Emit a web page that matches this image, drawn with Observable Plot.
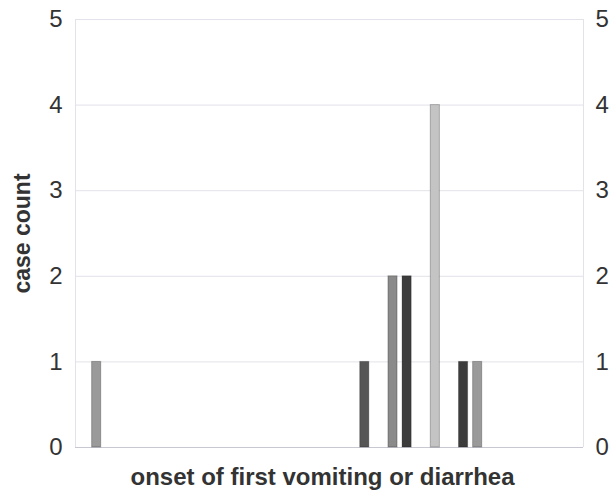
<!DOCTYPE html>
<html>
<head>
<meta charset="utf-8">
<script src="https://cdn.jsdelivr.net/npm/d3@7"></script>
<script src="https://cdn.jsdelivr.net/npm/@observablehq/plot@0.6"></script>
<style>
  html, body { margin: 0; padding: 0; background: #fff; }
  svg { font-family: "Liberation Sans", Arial, sans-serif; }
</style>
</head>
<body>
<div id="chart"></div>
<script>
// Onset slot (time index) of each bar, its case count, and its group
const onsetSlot = [0, 19, 21, 22, 24, 26, 27];
const caseCount = [1, 1, 2, 2, 4, 1, 1];
const group     = ["B", "D", "C", "E", "A", "E", "B"];
const groupNames  = ["A", "B", "C", "D", "E"];
const yTicks = [0, 1, 2, 3, 4, 5];
const xTitle = "onset of first vomiting or diarrhea";
const yTitle = "case count";

const data = onsetSlot.map((s, i) => ({slot: s, count: caseCount[i], group: group[i]}));

const chart = Plot.plot({
  width: 616,
  height: 495,
  marginLeft: 75,
  marginRight: 33,
  marginTop: 19,
  marginBottom: 48,
  style: {fontFamily: "'Liberation Sans', Arial, sans-serif", color: "#333", background: "#fff"},
  x: {domain: [-1.5, 34.5], axis: null},
  y: {domain: [0, 5], axis: null},
  color: {domain: groupNames, range: ["#c4c4c4", "#9a9a9a", "#8a8a8a", "#565656", "#3c3c3c"]},
  marks: [
    Plot.gridY(yTicks, {stroke: "#e2e2ea", strokeOpacity: 1}),
    Plot.ruleX([-1.5, 34.5], {stroke: "#e2e2ea"}),
    Plot.ruleY([0], {stroke: "#c8c8d2"}),
    Plot.rectY(data, {
      x1: d => d.slot - 0.5,
      x2: d => d.slot + 0.5,
      y: "count",
      fill: "group",
      stroke: "rgba(0,0,0,0.25)",
      strokeWidth: 1,
      insetLeft: 2.5,
      insetRight: 2.5
    }),
    Plot.axisY(yTicks, {anchor: "left", tickSize: 0, tickPadding: 13, fontSize: 24, fill: "#333", label: null, tickFormat: "d"}),
    Plot.axisY(yTicks, {anchor: "right", tickSize: 0, tickPadding: 12, fontSize: 24, fill: "#333", label: null, tickFormat: "d"}),
    Plot.text([yTitle], {frameAnchor: "left", textAnchor: "middle", dx: -53, rotate: -90, fontSize: 23, fontWeight: "bold", fill: "#333"}),
    Plot.text([xTitle], {frameAnchor: "bottom", dx: -7, dy: 37, fontSize: 24, fontWeight: "bold", fill: "#333"})
  ]
});
document.getElementById("chart").appendChild(chart);
</script>
</body>
</html>
